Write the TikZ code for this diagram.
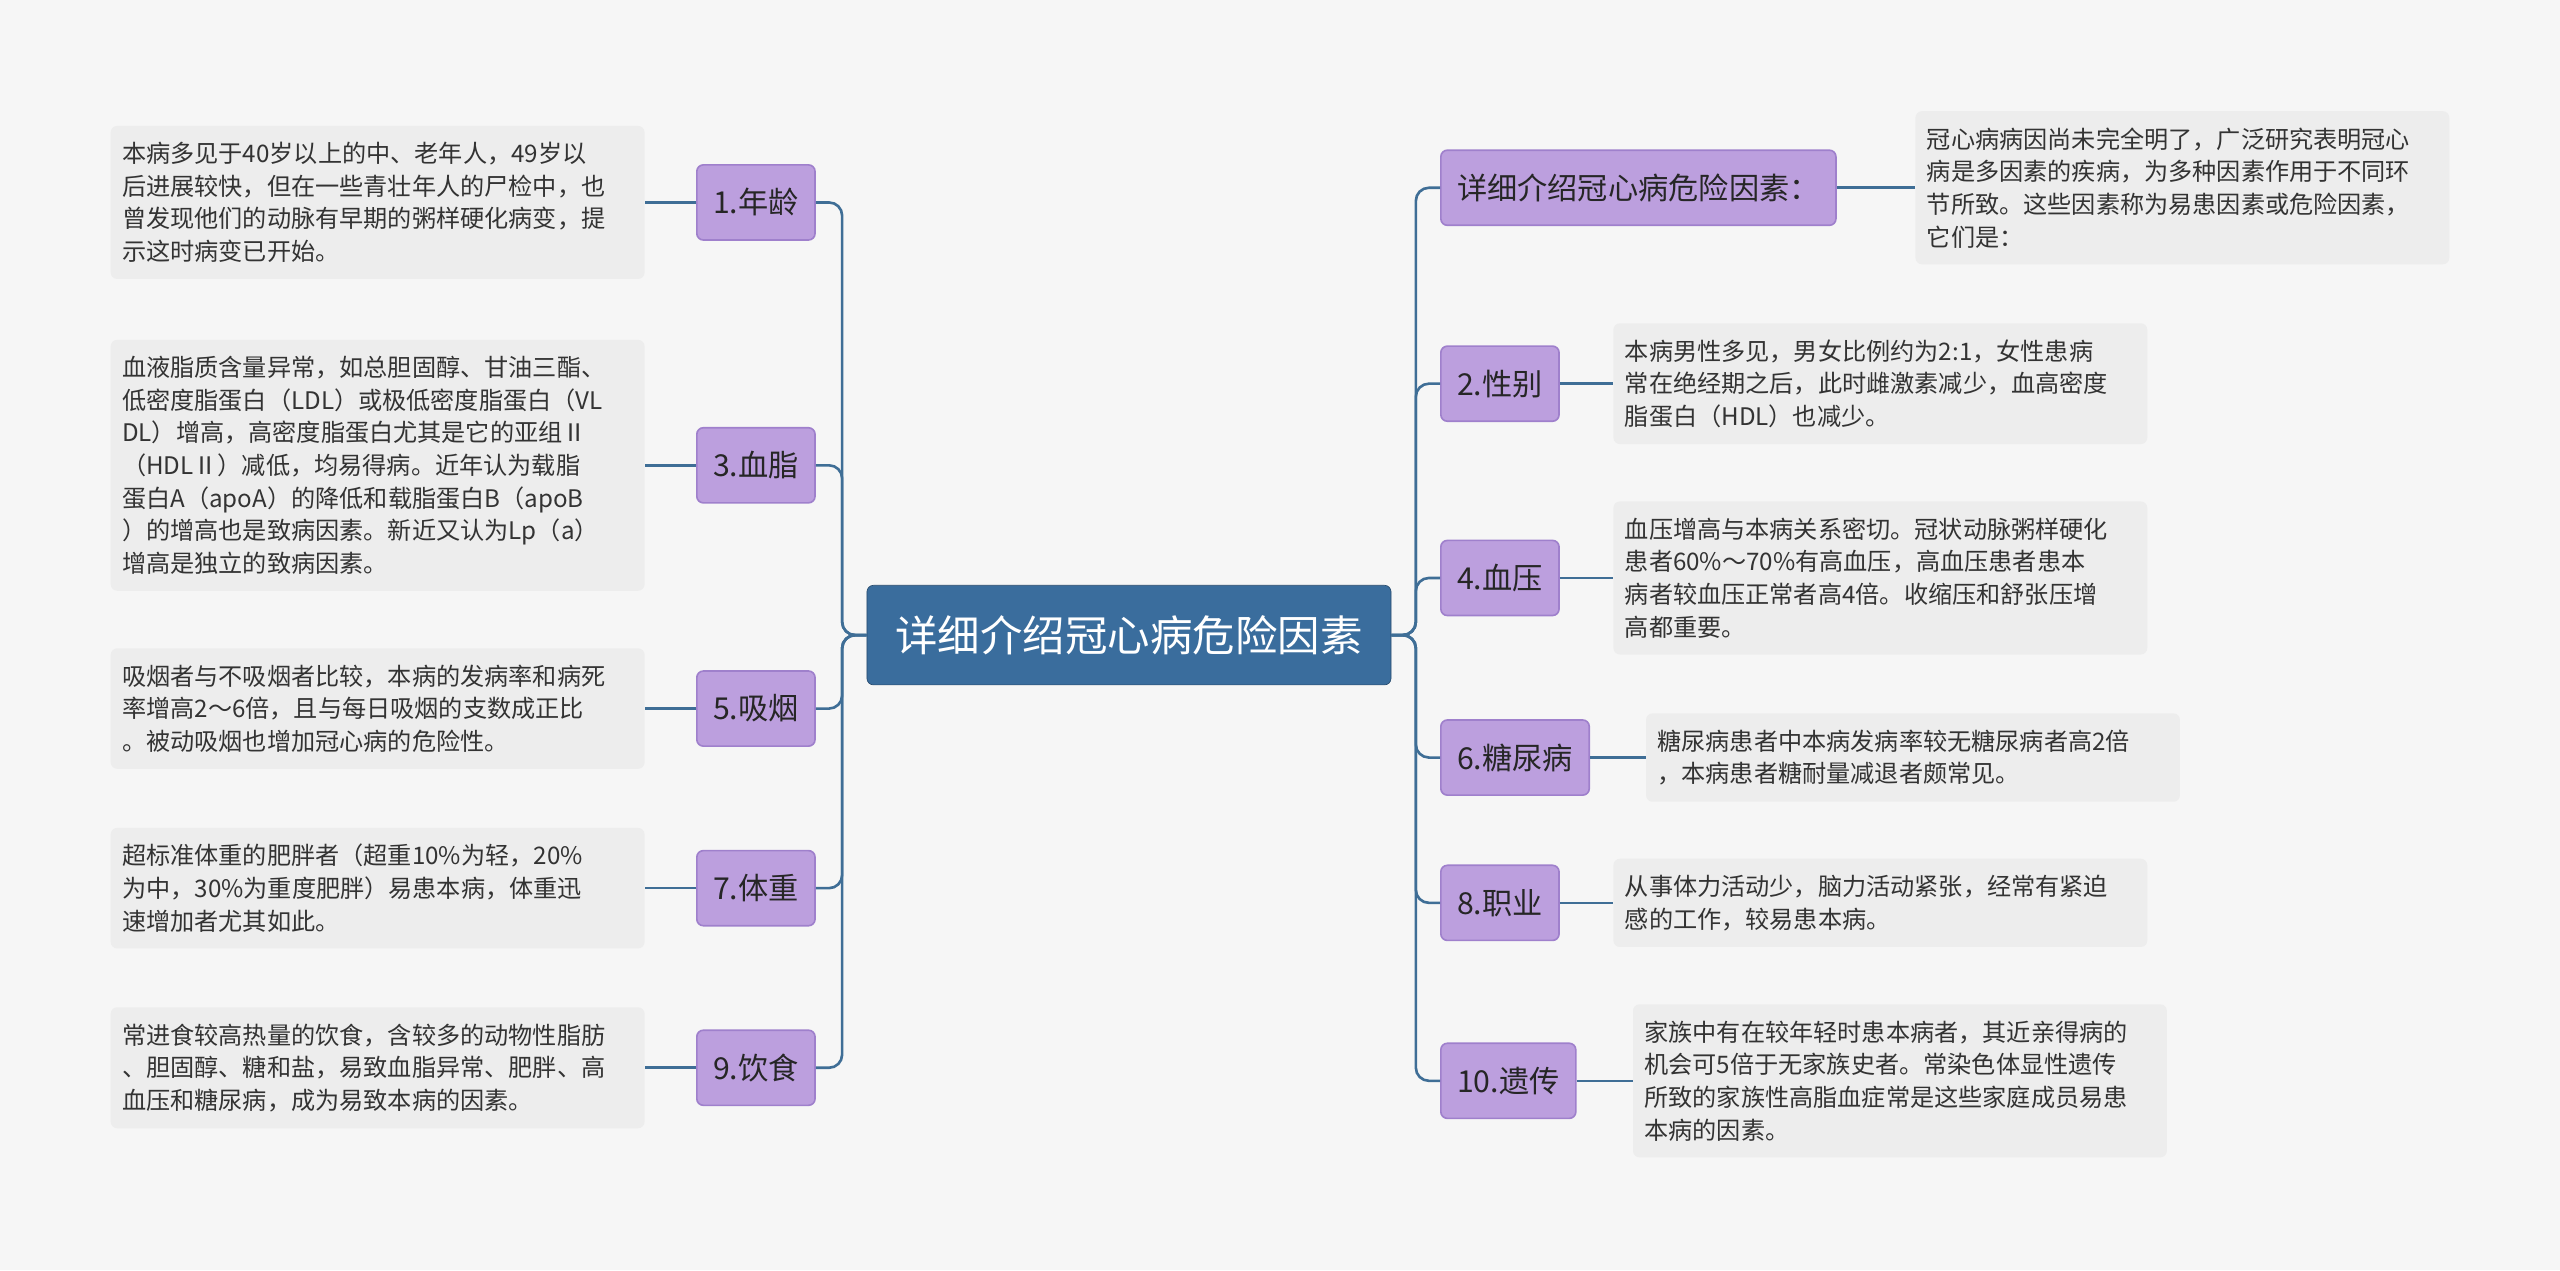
\documentclass[tikz,border=0pt]{standalone}
\usepackage{fontspec}
\setmainfont{Noto Sans CJK SC}
\begin{document}
\begin{tikzpicture}[x=1pt,y=-1pt,
 ln/.style={draw=lk,line width=1.6pt},
 br/.style={ln,rounded corners=8pt},
 kid/.style={draw=pb,fill=pf,rounded corners=4pt,line width=1pt,font=\fontsize{18.5}{22}\selectfont,text=black!85,minimum height=46pt,inner xsep=10pt},
 txt/.style={fill=gb,rounded corners=4pt,font=\fontsize{14.8}{20}\selectfont,text=black!80,align=left,text width=313pt,inner xsep=7pt,inner ysep=10pt,anchor=west}]
\definecolor{lk}{HTML}{3F6E96}
\definecolor{pf}{HTML}{BC9FDE}
\definecolor{pb}{HTML}{9F80CC}
\definecolor{gb}{HTML}{EDEDED}
\definecolor{cf}{HTML}{3A6D9D}
\definecolor{bg}{HTML}{F6F6F6}
\fill[bg] (0,0) rectangle (1568,778);
\useasboundingbox (0,0) rectangle (1568,778);
\node[fill=cf,draw=cf!70!black,rounded corners=4pt,text=white,font=\fontsize{26}{30}\selectfont,minimum width=321pt,minimum height=61pt] (c) at (691.5,389) {详细介绍冠心病危险因素};
% left
\node[kid] (n1) at (463,124) {1.年龄};
\node[kid] (n3) at (463,285) {3.血脂};
\node[kid] (n5) at (463,434) {5.吸烟};
\node[kid] (n7) at (463,544) {7.体重};
\node[kid] (n9) at (463,654) {9.饮食};
\foreach \n in {n1,n3,n5,n7,n9} \draw[br] (c.west) -- ++(-15,0) |- (\n.east);
\node[txt,anchor=east] (t1) at (395,124) {本病多见于40岁以上的中、老年人，49岁以\\后进展较快，但在一些青壮年人的尸检中，也\\曾发现他们的动脉有早期的粥样硬化病变，提\\示这时病变已开始。};
\node[txt,anchor=east] (t3) at (395,285) {血液脂质含量异常，如总胆固醇、甘油三酯、\\低密度脂蛋白（LDL）或极低密度脂蛋白（VL\\DL）增高，高密度脂蛋白尤其是它的亚组Ⅱ\\（HDLⅡ）减低，均易得病。近年认为载脂\\蛋白A（apoA）的降低和载脂蛋白B（apoB\\）的增高也是致病因素。新近又认为Lp（a）\\增高是独立的致病因素。};
\node[txt,anchor=east] (t5) at (395,434) {吸烟者与不吸烟者比较，本病的发病率和病死\\率增高2～6倍，且与每日吸烟的支数成正比\\。被动吸烟也增加冠心病的危险性。};
\node[txt,anchor=east] (t7) at (395,544) {超标准体重的肥胖者（超重10\%为轻，20\%\\为中，30\%为重度肥胖）易患本病，体重迅\\速增加者尤其如此。};
\node[txt,anchor=east] (t9) at (395,654) {常进食较高热量的饮食，含较多的动物性脂肪\\、胆固醇、糖和盐，易致血脂异常、肥胖、高\\血压和糖尿病，成为易致本病的因素。};
\foreach \a/\b in {n1/t1,n3/t3,n5/t5,n7/t7,n9/t9} \draw[ln] (\a.west) -- (\b.east);
% right
\node[kid,anchor=west] (r0) at (882,115) {详细介绍冠心病危险因素：};
\node[kid,anchor=west] (r2) at (882,235) {2.性别};
\node[kid,anchor=west] (r4) at (882,354) {4.血压};
\node[kid,anchor=west] (r6) at (882,464) {6.糖尿病};
\node[kid,anchor=west] (r8) at (882,553) {8.职业};
\node[kid,anchor=west] (r10) at (882,662) {10.遗传};
\foreach \n in {r0,r2,r4,r6,r8,r10} \draw[br] (c.east) -- ++(15,0) |- (\n.west);
\node[txt] (s0) at (1173,115) {冠心病病因尚未完全明了，广泛研究表明冠心\\病是多因素的疾病，为多种因素作用于不同环\\节所致。这些因素称为易患因素或危险因素，\\它们是：};
\node[txt] (s2) at (988,235) {本病男性多见，男女比例约为2:1，女性患病\\常在绝经期之后，此时雌激素减少，血高密度\\脂蛋白（HDL）也减少。};
\node[txt] (s4) at (988,354) {血压增高与本病关系密切。冠状动脉粥样硬化\\患者60\%～70\%有高血压，高血压患者患本\\病者较血压正常者高4倍。收缩压和舒张压增\\高都重要。};
\node[txt] (s6) at (1008,464) {糖尿病患者中本病发病率较无糖尿病者高2倍\\，本病患者糖耐量减退者颇常见。};
\node[txt] (s8) at (988,553) {从事体力活动少，脑力活动紧张，经常有紧迫\\感的工作，较易患本病。};
\node[txt] (s10) at (1000,662) {家族中有在较年轻时患本病者，其近亲得病的\\机会可5倍于无家族史者。常染色体显性遗传\\所致的家族性高脂血症常是这些家庭成员易患\\本病的因素。};
\foreach \a/\b in {r0/s0,r2/s2,r4/s4,r6/s6,r8/s8,r10/s10} \draw[ln] (\a.east) -- (\b.west);
\end{tikzpicture}
\end{document}
